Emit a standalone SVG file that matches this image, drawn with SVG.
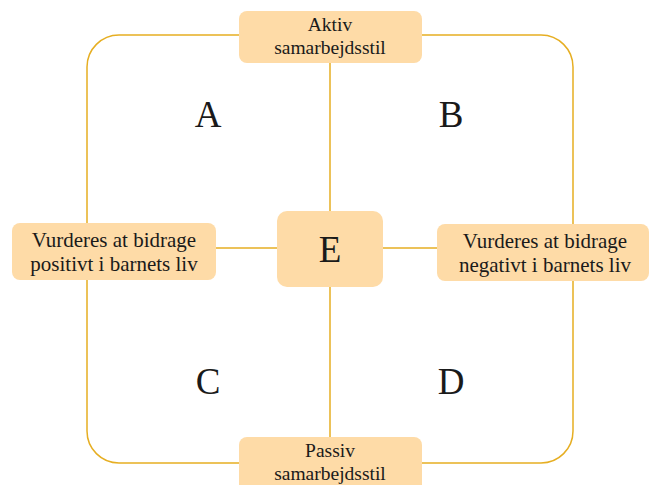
<svg xmlns="http://www.w3.org/2000/svg" width="651" height="485" viewBox="0 0 651 485">
<style>
.box{fill:#FEDBA7;}
.ln{stroke:#E6AE22;stroke-width:1.5;fill:none;}
.t{font-family:"Liberation Serif","Times New Roman",serif;font-size:19.5px;fill:#1a1a1a;text-anchor:middle;}
.s{font-size:21px;}
.big{font-family:"Liberation Serif","Times New Roman",serif;font-size:37px;fill:#1a1a1a;text-anchor:middle;}
</style>
<rect width="651" height="485" fill="#fff"/>
<g id="connectors">
<rect class="ln" x="87" y="35" width="486" height="428" rx="32"/>
<line class="ln" x1="330" y1="62" x2="330" y2="211"/>
<line class="ln" x1="330" y1="287" x2="330" y2="437"/>
<line class="ln" x1="216" y1="248" x2="277" y2="248"/>
<line class="ln" x1="383" y1="248" x2="437" y2="248"/>
</g>
<g id="top"><rect class="box" x="239" y="11" width="183" height="52" rx="8"/>
<text class="t" x="330" y="31">Aktiv</text><text class="t" x="330" y="54">samarbejdsstil</text></g>
<g id="left"><rect class="box" x="12" y="223" width="204" height="57" rx="8"/>
<text class="t s" x="114" y="247">Vurderes at bidrage</text><text class="t s" x="114" y="271">positivt i barnets liv</text></g>
<g id="center"><rect class="box" x="277" y="211" width="106" height="76" rx="10"/>
<text class="big" x="330" y="262" font-size="40">E</text></g>
<g id="right"><rect class="box" x="437" y="224" width="212" height="57" rx="8"/>
<text class="t s" x="545" y="248">Vurderes at bidrage</text><text class="t s" x="545" y="272">negativt i barnets liv</text></g>
<g id="bottom"><rect class="box" x="239" y="437" width="183" height="56" rx="8"/>
<text class="t" x="330" y="457">Passiv</text><text class="t" x="330" y="480">samarbejdsstil</text></g>
<g id="A"><text class="big" x="208" y="127">A</text></g>
<g id="B"><text class="big" x="451" y="127">B</text></g>
<g id="C"><text class="big" x="208" y="394">C</text></g>
<g id="D"><text class="big" x="451" y="394">D</text></g>
</svg>
